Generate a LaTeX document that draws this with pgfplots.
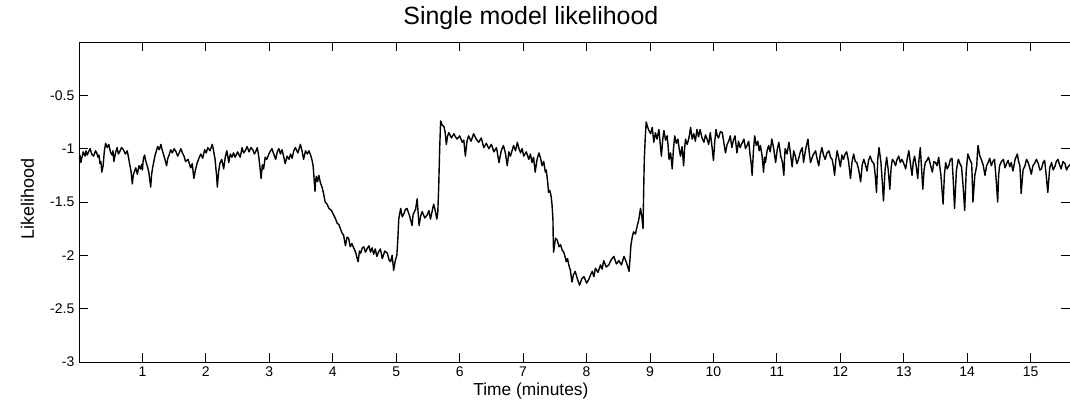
\documentclass[border=0pt]{standalone}
\usepackage{pgfplots}
\pgfplotsset{compat=1.18}
\usepackage{fontspec}
\setmainfont{Liberation Sans}
\begin{document}
\begin{tikzpicture}[x=0.75pt,y=0.75pt]
\useasboundingbox (-79,-44) rectangle (991,362);
\begin{axis}[
  at={(0,0)}, anchor=south west,
  scale only axis, width=743.25pt, height=240pt,
  xmin=0, xmax=15.62, ymin=-3, ymax=0,
  xtick={1,2,...,15}, ytick={-3,-2.5,-2,-1.5,-1,-0.5},
  yticklabels={-3,-2.5,-2,-1.5,-1,-0.5},
  tick align=inside, tick pos=both,
  major tick length=6.5pt,
  every tick/.style={black, line width=0.7pt},
  axis line style={black, line width=0.7pt},
  tick label style={font=\fontsize{10.5}{12}\selectfont},
  /pgf/number format/assume math mode=true,
  title={Single model likelihood},
  title style={font=\fontsize{18.7}{21}\selectfont, at={(axis description cs:0.456,1.031)}, anchor=base},
  xlabel={Time (minutes)},
  xlabel style={font=\fontsize{13}{15}\selectfont, at={(axis description cs:0.456,-0.104)}, anchor=base},
  ylabel={Likelihood},
  ylabel style={font=\fontsize{13.5}{15}\selectfont, at={(axis description cs:-0.052,0.51)}, anchor=center, rotate=0},
]
\addplot[black, line width=1.05pt, mark=none, line join=round] coordinates {
(0.00,-1.10) (0.015,-1.06) (0.03,-1.13) (0.04,-1.09) (0.05,-1.08) (0.065,-1.03) (0.08,-1.05) (0.095,-1.07) (0.11,-1.02) (0.13,-1.06) (0.15,-1.03) (0.175,-1.00) (0.20,-1.05) (0.23,-1.07) (0.26,-1.02) (0.28,-1.04) (0.30,-1.08) (0.315,-1.06) (0.33,-1.14) (0.345,-1.12) (0.36,-1.22) (0.37,-1.19) (0.38,-1.16) (0.40,-1.02) (0.42,-0.95) (0.445,-0.99) (0.47,-0.96) (0.495,-1.03) (0.52,-1.06) (0.535,-1.02) (0.55,-1.12) (0.575,-1.04) (0.60,-0.99) (0.62,-1.05) (0.64,-1.03) (0.67,-0.99) (0.70,-1.01) (0.73,-1.05) (0.76,-1.02) (0.78,-1.08) (0.80,-1.15) (0.82,-1.21) (0.84,-1.33) (0.855,-1.25) (0.87,-1.22) (0.895,-1.18) (0.92,-1.24) (0.945,-1.16) (0.97,-1.19) (0.985,-1.15) (1.00,-1.20) (1.01,-1.12) (1.02,-1.08) (1.035,-1.06) (1.05,-1.11) (1.065,-1.14) (1.08,-1.17) (1.10,-1.22) (1.13,-1.36) (1.145,-1.24) (1.16,-1.18) (1.18,-1.12) (1.20,-1.06) (1.22,-1.02) (1.24,-0.98) (1.265,-1.01) (1.29,-0.96) (1.31,-1.01) (1.33,-1.05) (1.355,-1.10) (1.38,-1.16) (1.40,-1.09) (1.42,-1.06) (1.445,-1.01) (1.47,-1.04) (1.50,-1.00) (1.53,-1.03) (1.555,-1.07) (1.58,-1.04) (1.605,-1.00) (1.63,-1.04) (1.655,-1.07) (1.68,-1.12) (1.72,-1.10) (1.76,-1.18) (1.785,-1.14) (1.81,-1.28) (1.835,-1.20) (1.86,-1.14) (1.89,-1.09) (1.92,-1.05) (1.95,-1.09) (1.98,-1.01) (2.005,-1.04) (2.03,-0.99) (2.065,-1.02) (2.10,-0.96) (2.115,-1.00) (2.13,-1.05) (2.145,-1.10) (2.16,-1.20) (2.17,-1.26) (2.18,-1.36) (2.20,-1.22) (2.22,-1.14) (2.25,-1.10)
(2.28,-1.19) (2.305,-1.08) (2.33,-1.02) (2.345,-1.07) (2.36,-1.13) (2.385,-1.05) (2.41,-1.08) (2.435,-1.04) (2.46,-1.08) (2.50,-1.03) (2.54,-1.08) (2.555,-1.04) (2.57,-0.99) (2.595,-1.04) (2.62,-1.02) (2.65,-0.98) (2.68,-1.03) (2.71,-0.99) (2.74,-1.01) (2.765,-1.05) (2.79,-1.02) (2.81,-0.99) (2.83,-1.06) (2.85,-1.16) (2.87,-1.28) (2.89,-1.15) (2.91,-1.19) (2.935,-1.08) (2.96,-1.10) (3.00,-1.04) (3.04,-1.00) (3.07,-1.05) (3.10,-1.10) (3.125,-1.03) (3.15,-1.00) (3.175,-1.05) (3.20,-1.01) (3.225,-1.07) (3.25,-1.14) (3.28,-1.07) (3.31,-1.10) (3.335,-1.05) (3.36,-1.09) (3.385,-1.02) (3.41,-0.99) (3.45,-1.04) (3.49,-0.96) (3.515,-1.02) (3.54,-1.10) (3.57,-1.02) (3.60,-1.05) (3.625,-1.02) (3.65,-1.06) (3.67,-1.10) (3.69,-1.16) (3.705,-1.28) (3.72,-1.40) (3.73,-1.30) (3.74,-1.26) (3.76,-1.31) (3.78,-1.25) (3.805,-1.32) (3.83,-1.36) (3.855,-1.42) (3.88,-1.50) (3.91,-1.52) (3.94,-1.56) (3.98,-1.58) (4.02,-1.63) (4.045,-1.66) (4.07,-1.70) (4.095,-1.71) (4.12,-1.75) (4.145,-1.79) (4.17,-1.81) (4.185,-1.86) (4.20,-1.91) (4.225,-1.83) (4.25,-1.84) (4.275,-1.92) (4.30,-1.89) (4.33,-1.93) (4.36,-1.97) (4.38,-2.02) (4.40,-2.06) (4.42,-1.96) (4.44,-1.98) (4.465,-1.93) (4.49,-1.92) (4.515,-1.97) (4.54,-1.94)
(4.57,-1.91) (4.595,-1.97) (4.62,-1.93) (4.645,-1.99) (4.67,-1.94) (4.695,-2.01) (4.72,-1.97) (4.75,-1.94) (4.78,-2.03) (4.82,-1.96) (4.86,-1.98) (4.885,-2.04) (4.91,-2.06) (4.935,-2.00) (4.96,-2.14) (4.985,-2.05) (5.01,-2.00) (5.025,-1.85) (5.04,-1.66) (5.055,-1.61) (5.07,-1.56) (5.095,-1.64) (5.12,-1.61) (5.145,-1.57) (5.17,-1.56) (5.21,-1.63) (5.25,-1.72) (5.265,-1.62) (5.28,-1.60) (5.305,-1.57) (5.33,-1.47) (5.345,-1.60) (5.36,-1.72) (5.385,-1.63) (5.41,-1.59) (5.45,-1.65) (5.49,-1.62) (5.515,-1.58) (5.54,-1.66) (5.565,-1.59) (5.59,-1.52) (5.615,-1.58) (5.64,-1.66) (5.655,-1.60) (5.67,-1.35) (5.685,-1.00) (5.70,-0.74) (5.725,-0.78) (5.75,-0.79) (5.77,-0.84) (5.79,-0.96) (5.81,-0.88) (5.83,-0.85) (5.87,-0.90) (5.91,-0.86) (5.935,-0.89) (5.96,-0.91) (6.00,-0.88) (6.04,-0.94) (6.065,-0.92) (6.09,-1.07) (6.115,-0.93) (6.14,-0.88) (6.18,-0.93) (6.22,-0.86) (6.26,-0.91) (6.30,-0.94) (6.34,-0.90) (6.38,-0.99) (6.42,-0.95) (6.46,-1.00) (6.50,-0.96) (6.54,-1.03) (6.58,-0.99) (6.62,-1.13) (6.655,-1.02) (6.69,-0.97) (6.72,-1.04) (6.75,-1.16) (6.775,-1.03) (6.80,-1.07) (6.825,-1.02)
(6.85,-0.97) (6.88,-1.02) (6.91,-0.94) (6.935,-1.00) (6.96,-1.04) (6.985,-1.00) (7.01,-1.07) (7.05,-1.03) (7.09,-1.10) (7.115,-1.05) (7.14,-1.13) (7.165,-1.08) (7.19,-1.22) (7.22,-1.10) (7.25,-1.04) (7.275,-1.09) (7.30,-1.16) (7.325,-1.12) (7.35,-1.22) (7.365,-1.20) (7.38,-1.28) (7.39,-1.33) (7.40,-1.41) (7.42,-1.39) (7.44,-1.44) (7.455,-1.52) (7.47,-1.66) (7.475,-1.85) (7.48,-1.97) (7.51,-1.84) (7.54,-1.86) (7.565,-1.92) (7.59,-1.90) (7.615,-1.95) (7.64,-1.97) (7.66,-2.01) (7.68,-2.06) (7.70,-2.03) (7.72,-2.09) (7.745,-2.14) (7.77,-2.25) (7.795,-2.18) (7.82,-2.15) (7.855,-2.22) (7.89,-2.28) (7.925,-2.22) (7.96,-2.20) (8.00,-2.26) (8.04,-2.22) (8.065,-2.18) (8.09,-2.15) (8.115,-2.20) (8.14,-2.12) (8.18,-2.16) (8.22,-2.09) (8.245,-2.13) (8.27,-2.05) (8.31,-2.11) (8.35,-2.09) (8.39,-2.04) (8.43,-2.01) (8.47,-2.08) (8.51,-2.05) (8.55,-2.09) (8.59,-2.01) (8.63,-2.07) (8.67,-2.15) (8.685,-2.03) (8.70,-1.90) (8.72,-1.83) (8.74,-1.78) (8.77,-1.80) (8.80,-1.72) (8.825,-1.66) (8.85,-1.56) (8.87,-1.63) (8.89,-1.75) (8.90,-1.40) (8.91,-1.10) (8.925,-0.90) (8.94,-0.75) (8.975,-0.82) (9.01,-0.86) (9.035,-0.80) (9.06,-0.94) (9.085,-0.85) (9.11,-0.91)
(9.14,-0.82) (9.16,-0.95) (9.18,-1.07) (9.20,-0.92) (9.22,-0.83) (9.245,-0.92) (9.27,-0.88) (9.285,-0.97) (9.30,-1.10) (9.325,-1.04) (9.35,-1.19) (9.37,-1.00) (9.39,-0.88) (9.415,-0.95) (9.44,-0.91) (9.46,-1.00) (9.48,-1.07) (9.505,-0.98) (9.53,-1.16) (9.545,-1.00) (9.56,-0.91) (9.585,-0.96) (9.61,-0.91) (9.625,-0.86) (9.64,-0.80) (9.665,-0.91) (9.69,-0.86) (9.715,-0.93) (9.74,-0.82) (9.765,-0.89) (9.79,-0.82) (9.82,-0.90) (9.85,-0.94) (9.875,-0.87) (9.90,-0.91) (9.925,-0.96) (9.95,-0.85) (9.975,-0.97) (10.00,-1.11) (10.02,-0.94) (10.04,-0.82) (10.06,-0.88) (10.08,-0.90) (10.11,-0.84) (10.14,-0.85) (10.165,-0.95) (10.19,-1.04) (10.215,-0.96) (10.24,-0.93) (10.265,-0.88) (10.29,-0.99) (10.315,-0.92) (10.34,-0.88) (10.355,-0.96) (10.37,-1.04) (10.395,-0.93) (10.42,-0.99) (10.45,-0.95) (10.48,-0.91) (10.505,-1.00) (10.53,-0.97) (10.555,-0.93) (10.58,-1.07) (10.595,-1.14) (10.61,-1.25) (10.63,-1.02) (10.65,-0.88) (10.675,-0.97) (10.70,-0.93) (10.72,-1.02) (10.74,-0.97) (10.765,-1.06) (10.79,-1.22) (10.805,-1.08) (10.82,-1.13) (10.845,-1.02) (10.87,-0.97) (10.895,-1.03) (10.92,-0.91) (10.95,-1.00) (10.98,-1.13) (11.005,-1.01) (11.03,-0.94) (11.045,-1.00) (11.06,-1.07) (11.085,-1.12) (11.11,-1.25) (11.12,-1.10) (11.13,-1.00) (11.16,-1.05) (11.19,-0.94) (11.215,-1.05) (11.24,-1.17) (11.265,-1.02) (11.29,-1.07) (11.315,-1.14) (11.34,-1.10) (11.37,-1.03) (11.40,-0.99)
(11.42,-1.13) (11.455,-1.00) (11.49,-0.91) (11.51,-1.04) (11.53,-1.13) (11.57,-1.06) (11.61,-1.02) (11.635,-1.10) (11.66,-1.16) (11.685,-1.05) (11.71,-0.99) (11.735,-1.06) (11.76,-1.10) (11.79,-1.04) (11.82,-1.02) (11.845,-1.08) (11.87,-1.10) (11.89,-1.16) (11.91,-1.25) (11.93,-1.10) (11.95,-1.02) (11.975,-1.09) (12.00,-1.17) (12.025,-1.06) (12.05,-1.10) (12.075,-1.05) (12.10,-1.03) (12.13,-1.12) (12.16,-1.28) (12.185,-1.12) (12.21,-1.05) (12.235,-1.12) (12.26,-1.13) (12.29,-1.20) (12.32,-1.31) (12.345,-1.15) (12.37,-1.10) (12.395,-1.15) (12.42,-1.21) (12.445,-1.11) (12.47,-1.07) (12.50,-1.12) (12.53,-1.14) (12.55,-1.25) (12.57,-1.41) (12.59,-1.10) (12.61,-0.99) (12.625,-1.06) (12.64,-1.13) (12.66,-1.30) (12.68,-1.49) (12.705,-1.20) (12.73,-1.08) (12.755,-1.20) (12.78,-1.38) (12.80,-1.18) (12.82,-1.10) (12.845,-1.12) (12.87,-1.16) (12.895,-1.10) (12.92,-1.07) (12.945,-1.13) (12.97,-1.10) (13.00,-1.14) (13.03,-1.19) (13.055,-1.09) (13.08,-1.02) (13.105,-1.14) (13.13,-1.25) (13.15,-1.12) (13.17,-1.07) (13.195,-1.16) (13.22,-1.28) (13.24,-1.10) (13.26,-0.99) (13.28,-1.18) (13.30,-1.38) (13.32,-1.20) (13.34,-1.13) (13.365,-1.11) (13.39,-1.08) (13.42,-1.15) (13.45,-1.22) (13.475,-1.12) (13.50,-1.13) (13.525,-1.16) (13.55,-1.08) (13.585,-1.25) (13.62,-1.52) (13.64,-1.25) (13.66,-1.13) (13.685,-1.19) (13.71,-1.16) (13.735,-1.10)
(13.76,-1.09) (13.78,-1.30) (13.80,-1.56) (13.83,-1.20) (13.86,-1.10) (13.885,-1.14) (13.91,-1.17) (13.935,-1.35) (13.96,-1.58) (13.985,-1.20) (14.01,-1.05) (14.04,-1.10) (14.07,-1.14) (14.08,-1.30) (14.09,-1.50) (14.12,-1.25) (14.15,-1.16) (14.16,-1.05) (14.17,-0.97) (14.195,-1.06) (14.22,-1.10) (14.25,-1.15) (14.28,-1.25) (14.305,-1.16) (14.33,-1.13) (14.355,-1.09) (14.38,-1.16) (14.405,-1.12) (14.43,-1.10) (14.455,-1.28) (14.48,-1.50) (14.495,-1.25) (14.51,-1.16) (14.54,-1.12) (14.57,-1.10) (14.595,-1.18) (14.62,-1.14) (14.645,-1.11) (14.67,-1.17) (14.695,-1.13) (14.72,-1.21) (14.755,-1.10) (14.79,-1.05) (14.81,-1.12) (14.83,-1.16) (14.84,-1.28) (14.85,-1.42) (14.88,-1.20) (14.91,-1.16) (14.935,-1.10) (14.96,-1.13) (14.985,-1.18) (15.01,-1.24) (15.035,-1.16) (15.06,-1.14) (15.09,-1.10) (15.12,-1.14) (15.145,-1.20) (15.17,-1.19) (15.195,-1.13) (15.22,-1.11) (15.245,-1.25) (15.27,-1.41) (15.30,-1.18) (15.33,-1.13) (15.355,-1.20) (15.38,-1.17) (15.405,-1.12) (15.43,-1.10) (15.455,-1.15) (15.48,-1.19) (15.51,-1.12) (15.54,-1.14) (15.565,-1.20) (15.59,-1.17) (15.62,-1.15)
};
\end{axis}
\end{tikzpicture}
\end{document}
